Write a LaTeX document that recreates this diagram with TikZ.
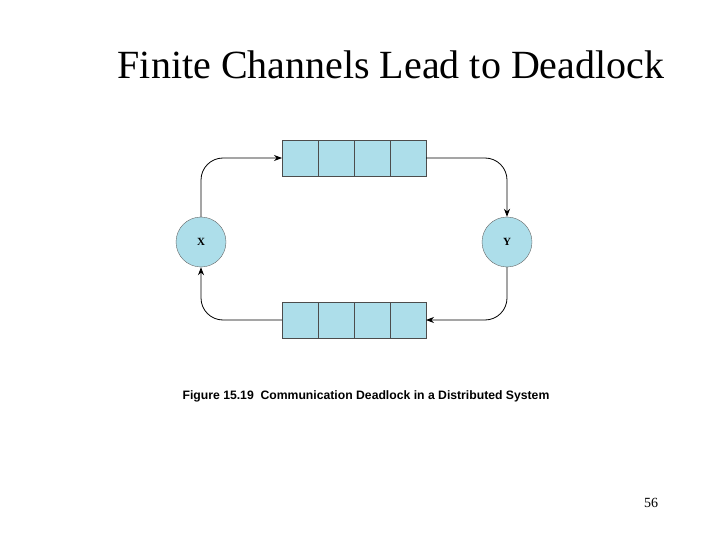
\documentclass[tikz,border=0pt]{standalone}
\usepackage{fontspec}
\setmainfont{Liberation Serif}
\newfontfamily\capfont{Liberation Sans}
\usetikzlibrary{arrows.meta}
\definecolor{qblue}{RGB}{173,222,234}
\begin{document}
\begin{tikzpicture}[x=1pt,y=-1pt,
  cell/.style={draw=black!70,fill=qblue,minimum width=36pt,minimum height=36pt,inner sep=0,outer sep=0},
  proc/.style={circle,draw=black!60,fill=qblue,minimum size=50pt,inner sep=0,font=\bfseries\fontsize{11}{12}\selectfont},
  link/.style={-{Stealth[length=8pt,width=6pt]},thick,rounded corners=22pt}]
\useasboundingbox (0,0) rectangle (720,540);
\node[font=\fontsize{40}{44}\selectfont] (title) at (391,65) {Finite Channels Lead to Deadlock};
\foreach \i/\x in {1/300,2/336,3/372,4/408}{
  \node[cell] (t\i) at (\x,158) {};
  \node[cell] (b\i) at (\x,320) {};
}
\node[proc] (X) at (201,242) {X};
\node[proc] (Y) at (507,242) {Y};
\coordinate (c1) at (201,158);
\coordinate (c2) at (507,158);
\coordinate (c3) at (507,320);
\coordinate (c4) at (201,320);
\draw[link] (X.north) -- (c1) -- (t1.west);
\draw[link] (t4.east) -- (c2) -- (Y.north);
\draw[link] (Y.south) -- (c3) -- (b4.east);
\draw[link] (b1.west) -- (c4) -- (X.south);
\node[font=\capfont\bfseries\fontsize{12.2}{14}\selectfont] (cap) at (366,396) {Figure 15.19\ \ Communication Deadlock in a Distributed System};
\node[font=\fontsize{14}{16}\selectfont] (pg) at (651,503) {56};
\end{tikzpicture}
\end{document}
